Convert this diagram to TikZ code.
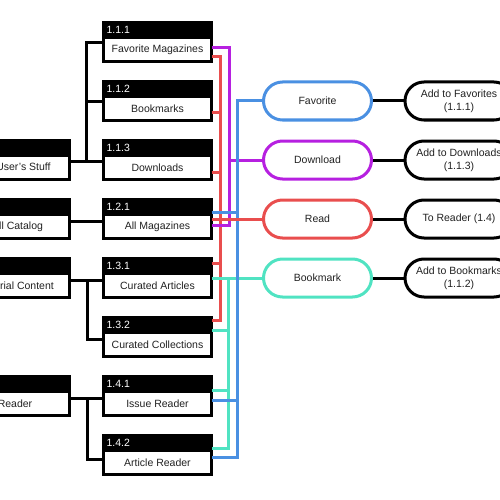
\documentclass[tikz,border=0pt]{standalone}
\usepackage{fontspec}
\setmainfont{Liberation Sans}
\usetikzlibrary{positioning}
\definecolor{wblue}{HTML}{4A90E2}
\definecolor{wpurple}{HTML}{B620E0}
\definecolor{wred}{HTML}{E94E4E}
\definecolor{wteal}{HTML}{50E3C2}
\definecolor{ink}{HTML}{222222}

\tikzset{
  txt/.style={font=\fontsize{10.5}{13}\selectfont, text=ink},
  hdr/.style={txt, fill=black, draw=black, line width=3pt, text=white, minimum width=108pt, minimum height=15pt,
    text width=102pt, align=left, inner xsep=2pt, inner ysep=0pt, outer sep=0pt},
  bodybox/.style={txt, fill=white, draw=black, line width=3pt, minimum width=108pt, minimum height=24pt, inner sep=0pt, outer sep=0pt},
  pill/.style={txt, draw=#1, fill=white, line width=3pt, rounded corners=19pt, minimum width=108pt, minimum height=38pt, align=center},
  tree/.style={draw=black, line width=3pt},
  wire/.style={draw=#1, line width=3pt}
}

\begin{document}
\begin{tikzpicture}[x=1pt,y=-1pt]
\useasboundingbox (0,0) rectangle (500,500);

% level 1
\node[hdr] (h11) at (15,148) {};
\node[bodybox, below=0pt of h11] (b11) {My User's Stuff};
\node[hdr] (h12) at (15,207) {};
\node[bodybox, below=0pt of h12] (b12) {Full Catalog};
\node[hdr] (h13) at (15,266) {};
\node[bodybox, below=0pt of h13] (b13) {Editorial Content};
\node[hdr] (h14) at (15,384) {};
\node[bodybox, below=0pt of h14] (b14) {Reader};

% level 2
\foreach \nm/\num/\lbl/\yy in {111/1.1.1/Favorite Magazines/30, 112/1.1.2/Bookmarks/89, 113/1.1.3/Downloads/148,
    121/1.2.1/All Magazines/207, 131/1.3.1/Curated Articles/266, 132/1.3.2/Curated Collections/325,
    141/1.4.1/Issue Reader/384, 142/1.4.2/Article Reader/443}{
  \node[hdr] (h\nm) at (157.5,\yy) {\num};
  \node[bodybox, below=0pt of h\nm] (b\nm) {\lbl};
}

% tree
\draw[tree] ([yshift=6.5pt]b11.east) -- ([yshift=6.5pt]b113.west);
\draw[tree] ([yshift=6.5pt]b111.west) -| (86,162);
\draw[tree] ([yshift=6.5pt]b112.west) -- +(-16,0);
\draw[tree] ([yshift=5.5pt]b12.east) -- ([yshift=5.5pt]b121.west);
\draw[tree] ([yshift=5.5pt]b13.east) -- ([yshift=5.5pt]b131.west);
\draw[tree] ([yshift=5.5pt]b132.west) -| (87,281);
\draw[tree] ([yshift=5.5pt]b14.east) -- ([yshift=5.5pt]b141.west);
\draw[tree] ([yshift=3.5pt]b142.west) -| (87,399);

% actions
\node[pill=wblue] (fav) at (317.5,101) {Favorite};
\node[pill=wpurple] (dl) at (317.5,160) {Download};
\node[pill=wred] (rd) at (317.5,219) {Read};
\node[pill=wteal] (bm) at (317.5,278) {Bookmark};
\node[pill=black] (rfav) at (459,101) {Add to Favorites\\(1.1.1)};
\node[pill=black] (rdl) at (459,160) {Add to Downloads\\(1.1.3)};
\node[pill=black] (rrd) at (459,219) {To Reader (1.4)};
\node[pill=black] (rbm) at (459,278) {Add to Bookmarks\\(1.1.2)};
\draw[tree] (fav) -- (rfav);
\draw[tree] (dl) -- (rdl);
\draw[tree] (rd) -- (rrd);
\draw[tree] (bm) -- (rbm);

% wires
\draw[wire=wred] (b111.east |- 0,57) -| (220,320) -- (b132.east |- 0,320);
\foreach \nm/\yy in {112/113, 113/172, 131/263}
  \draw[wire=wred] (b\nm.east |- 0,\yy) -- (220,\yy);
\draw[wire=wpurple] (b111.east |- 0,48) -| (229,225) -- (b121.east |- 0,225);
\draw[wire=wpurple] (dl.west) -- (229,160);
\draw[wire=wteal] (b131.east |- 0,278) -- (bm.west);
\draw[wire=wteal] (228,278) |- (b142.east |- 0,448);
\foreach \nm/\yy in {132/330, 141/390}
  \draw[wire=wteal] (b\nm.east |- 0,\yy) -- (228,\yy);
\draw[wire=wblue] (fav.west) -| (237,457) -- (b142.east |- 0,457);
\foreach \nm/\yy in {121/212, 141/400}
  \draw[wire=wblue] (b\nm.east |- 0,\yy) -- (237,\yy);
\draw[wire=wred] (b121.east |- 0,219) -- (rd.west);
\end{tikzpicture}
\end{document}
